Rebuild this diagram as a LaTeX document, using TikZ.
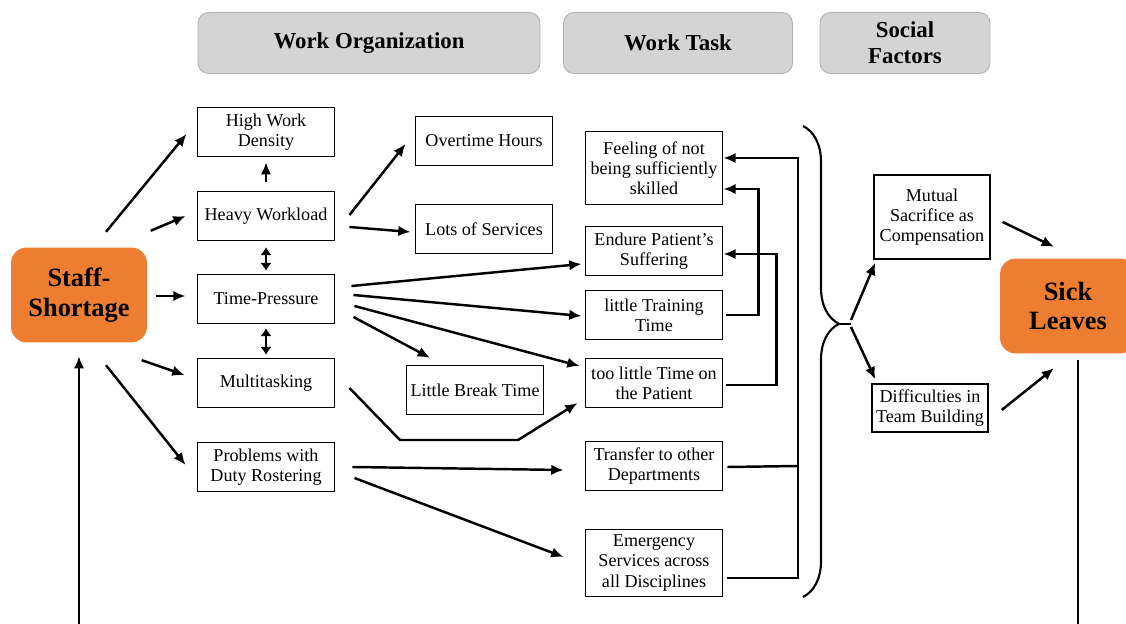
\documentclass[tikz,border=0pt]{standalone}
\usepackage{fontspec}
\setmainfont{Liberation Serif}
\usetikzlibrary{arrows.meta,decorations.pathreplacing}
\definecolor{shortorange}{HTML}{ED7D31}
\definecolor{headgray}{HTML}{D4D4D4}
\definecolor{headline}{HTML}{B0B0B0}

\begin{document}
\begin{tikzpicture}[x=0.02cm,y=-0.02cm,thick,
  box/.style={draw,line width=0.8pt,minimum width=2.75cm,minimum height=0.98cm,align=center,inner sep=1pt,font=\fontsize{10.3}{11.4}\selectfont},
  head/.style={draw=headline,line width=0.5pt,fill=headgray,rounded corners=6pt,minimum height=1.22cm,align=center,font=\fontsize{13}{15}\selectfont\bfseries},
  cause/.style={fill=shortorange,rounded corners=9pt,minimum width=2.72cm,minimum height=1.9cm,align=center,font=\fontsize{15}{17}\selectfont\bfseries},
  link/.style={line width=1.4pt,-{Latex[length=7pt,width=6pt]}},
  both/.style={line width=1.4pt,{Latex[length=4.5pt,width=6.5pt]}-{Latex[length=4.5pt,width=6.5pt]}},
  bar/.style={line width=1.4pt}]

%Page size, the feedback line runs off the bottom
\useasboundingbox (0,0) rectangle (1126,624);
\clip (0,0) rectangle (1126,624);

%Headings
\node[head,minimum width=6.84cm] (org) at (369,43) {Work Organization};
\node[head,minimum width=4.58cm] (task) at (678,43) {Work Task};
\node[head,minimum width=3.4cm] (social) at (905,43) {Social\\Factors};

%Start and end
\node[cause] (staff) at (79,295) {Staff-\\Shortage};
\node[cause] (sick) at (1068,306) {Sick\\Leaves};

%Boxes of one size
\foreach \n/\x/\y/\t in {dense/266/132/{High Work\\Density},heavy/266/216/{Heavy Workload},
  pressure/266/299/{Time-Pressure},multi/266/383/{Multitasking},roster/266/467/{Problems with\\Duty Rostering},
  overtime/484/141/{Overtime Hours},services/484/229/{Lots of Services},pause/475/390/{Little Break Time},
  suffer/654/251/{Endure Patient’s\\Suffering},training/654/315/{little Training\\Time},
  patient/654/383/{too little Time on\\the Patient},transfer/654/466/{Transfer to other\\Departments}}
  \node[box] (\n) at (\x,\y) {\t};

%Taller ones
\node[box,minimum height=1.46cm] (skilled) at (654,168) {Feeling of not\\being sufficiently\\skilled};
\node[box,minimum height=1.34cm] (emergency) at (654,563) {Emergency\\Services across\\all Disciplines};
\node[box,minimum width=2.32cm,minimum height=1.68cm] (sacrifice) at (932,217) {Mutual\\Sacrifice as\\Compensation};
\node[box,minimum width=2.32cm,minimum height=0.96cm] (team) at (930,408) {Difficulties in\\Team Building};

%Out of the staff shortage
\draw[link] ([shift={(27,-15)}]staff.north) -- ([shift={(-10,2)}]dense.west);
\draw[link] ([shift={(3,-16)}]staff.north east) -- ([shift={(-11,0)}]heavy.west);
\draw[link] ([shift={(8,1)}]staff.east) -- ([shift={(-11,-3)}]pressure.west);
\draw[link] ([shift={(-6,17)}]staff.south east) -- ([shift={(-12,-8)}]multi.west);
\draw[link] ([shift={(27,22)}]staff.south) -- ([shift={(-11,-2)}]roster.west);

%Within the first column
\draw[link,shorten <=0.18cm,shorten >=0.1cm] (heavy.north) -- (dense.south);
\draw[both,shorten <=0.12cm,shorten >=0.06cm] (heavy.south) -- (pressure.north);
\draw[both,shorten <=0.08cm,shorten >=0.06cm] (pressure.south) -- (multi.north);

%Heavy workload and time pressure
\draw[link] ([shift={(14,-1)}]heavy.east) -- ([shift={(-9,3)}]overtime.west);
\draw[link] ([shift={(14,11)}]heavy.east) -- ([shift={(-4,3)}]services.west);
\draw[link] ([shift={(16,-13)}]pressure.east) -- ([shift={(-3,13)}]suffer.west);
\draw[link] ([shift={(18,-4)}]pressure.east) -- ([shift={(-3,1)}]training.west);
\draw[link] ([shift={(19,7)}]pressure.east) -- ([shift={(-5,-17)}]patient.west);
\draw[link] ([shift={(18,18)}]pressure.east) -- ([shift={(-45,-7)}]pause.north);

%Multitasking and rostering
\draw[link] ([shift={(14,5)}]multi.east) -- (400,440) -- (518,440) -- ([shift={(-7,20)}]patient.west);
\draw[link] ([shift={(17,0)}]roster.east) -- ([shift={(-21,4)}]transfer.west);
\draw[link] ([shift={(19,11)}]roster.east) -- ([shift={(-21,-6)}]emergency.west);

%Back into the feeling of not being skilled
\coordinate (trunk) at (798,578);
\draw[link] ([shift={(3,0)}]training.east) -- ++(32,0) |- ([shift={(0,21)}]skilled.east);
\draw[link] ([shift={(3,2)}]patient.east) -- ++(50,0) |- ([shift={(0,3)}]suffer.east);
\draw[link] ([shift={(4,15)}]emergency.east) -- (trunk) |- ([shift={(0,-10)}]skilled.east);
\draw[bar] ([shift={(4,1)}]transfer.east) -- (transfer.east -| trunk);

%Brace and social factors
\draw[line width=1.2pt,decorate,decoration={brace,amplitude=0.72cm,aspect=0.42}] (803,126) -- (803,597);
\coordinate (tip) at (839,324);
\coordinate (fork) at (851,324);
\draw[line width=1.2pt] (tip) -- (fork);
\draw[link] ([shift={(0,-4)}]fork) -- ([shift={(2,3)}]sacrifice.south west);
\draw[link] ([shift={(0,3)}]fork) -- ([shift={(4,-4)}]team.north west);
\draw[link] ([shift={(12,5)}]sacrifice.east) -- ([shift={(-14,-11)}]sick.north);
\draw[link] ([shift={(13,2)}]team.east) -- ([shift={(-14,14)}]sick.south);

%Sick leaves feed back into the shortage
\draw[link] ([shift={(10,6)}]sick.south) -- ++(0,320) -| ([shift={(0,13)}]staff.south);

\end{tikzpicture}
\end{document}
